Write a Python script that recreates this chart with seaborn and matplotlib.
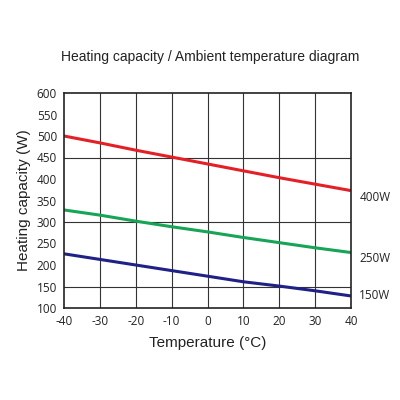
import pandas as pd
import matplotlib
matplotlib.use('Agg')
import matplotlib.pyplot as plt
import seaborn as sns

# values
temps = [-40, -30, -20, -10, 0, 10, 20, 30, 40]
cap_400w = [500, 484, 467, 451, 435, 419, 403, 388, 373]
cap_250w = [328, 316, 302, 289, 277, 264, 252, 240, 229]
cap_150w = [226, 213, 200, 187, 174, 161, 151, 140, 128]
models = ['400W', '250W', '150W']
label_offsets = [-5, -4, 0]
colors = ['#e41f26', '#17a456', '#1f2187']

df = pd.concat([
    pd.DataFrame({'Temperature': temps, 'Capacity': vals, 'Model': m})
    for m, vals in zip(models, [cap_400w, cap_250w, cap_150w])
])

sns.set_style('white')
plt.rcParams['axes.unicode_minus'] = False
label_font = ['Liberation Sans', 'DejaVu Sans']
tick_font = ['Open Sans', 'DejaVu Sans']

fig = plt.figure(figsize=(4, 4), dpi=100)
ax = fig.add_axes([0.16, 0.23, 0.7175, 0.5375])
sns.lineplot(data=df, x='Temperature', y='Capacity', hue='Model',
             palette=dict(zip(models, colors)), linewidth=2.2, ax=ax, legend=False)

ax.set_xlim(-40, 40)
ax.set_ylim(100, 600)
ax.set_xticks(range(-40, 41, 10))
ax.set_yticks(range(100, 601, 50))
for x in range(-30, 40, 10):
    ax.axvline(x, color='#333333', lw=0.8, zorder=0)
for y in [150, 300, 450]:
    ax.axhline(y, color='#333333', lw=0.8, zorder=0)
for s in ax.spines.values():
    s.set_color('#222222')
    s.set_linewidth(1.2)
ax.tick_params(length=0, labelsize=8.5, colors='#222222', pad=5)
for t in ax.get_xticklabels() + ax.get_yticklabels():
    t.set_family(tick_font)

# series labels at the right edge
for m, vals, off in zip(models, [cap_400w, cap_250w, cap_150w], label_offsets):
    ax.annotate(m, xy=(1, vals[-1]), xycoords=('axes fraction', 'data'),
                xytext=(6, off), textcoords='offset points', fontsize=8.5,
                family=tick_font, color='#222222', va='center')

ax.set_xlabel('Temperature (°C)', fontsize=11, family=label_font, color='#222222', labelpad=6)
ax.set_ylabel('Heating capacity (W)', fontsize=11, family=label_font, color='#222222', labelpad=4)
fig.text(0.525, 0.857, 'Heating capacity / Ambient temperature diagram', ha='center',
         va='center', fontsize=10, family=label_font, color='#222222')

fig.savefig('out.png', dpi=100, facecolor='white')
